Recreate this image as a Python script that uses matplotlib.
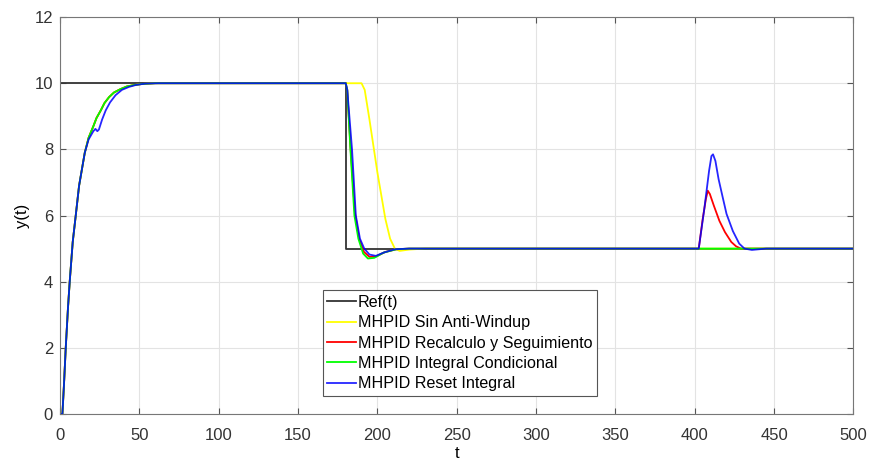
import numpy as np
import matplotlib.pyplot as plt

# reference signal
t_ref = [0, 180, 180, 500]
y_ref = [10, 10, 5, 5]

# start-up response (shared by the first three schemes)
t_rise = [0, 1.5, 2.5, 3.6, 5, 6.1, 8, 9.9, 12, 15.6, 18, 21, 23, 25.7, 28, 30.9, 34, 38, 42, 46, 52, 60]
y_rise = [0, 0, 0.9, 2.0, 3.2, 4.0, 5.2, 6.0, 6.9, 7.9, 8.35, 8.7, 8.95, 9.18, 9.4, 9.58, 9.72, 9.82, 9.9, 9.94, 9.98, 10]

# reset integral start-up (small dip when the integrator is reset)
t_rise_rst = [0, 1.5, 2.5, 3.6, 5, 6.1, 8, 9.9, 12, 15.6, 18, 21, 22.3, 23.5, 24.5, 26.5, 28.8, 31.5,
              35, 39, 43.5, 48, 54, 62]
y_rise_rst = [0, 0, 0.9, 2.0, 3.2, 4.0, 5.2, 6.0, 6.9, 7.9, 8.3, 8.55, 8.62, 8.55, 8.6, 8.9, 9.18, 9.42,
              9.64, 9.8, 9.89, 9.95, 9.99, 10]

# setpoint step down at t=180
t_fall_sin = [180, 190, 192, 195, 200, 205, 208, 211, 214, 220, 230, 500]
y_fall_sin = [10, 10, 9.8, 8.9, 7.3, 5.9, 5.3, 5.0, 4.93, 4.97, 5, 5]

t_fall_rec = [180, 181, 183, 185.8, 188.5, 191.5, 195, 199, 205, 212, 220, 402.5]
y_fall_rec = [10, 9.8, 8.1, 6.1, 5.3, 4.9, 4.75, 4.76, 4.9, 4.98, 5, 5]

t_fall_cond = [180, 181, 183, 185.5, 188, 191, 194, 198, 204, 212, 220, 500]
y_fall_cond = [10, 9.8, 8.0, 6.0, 5.3, 4.85, 4.7, 4.72, 4.88, 4.98, 5, 5]

t_fall_rst = [180, 181, 184, 186.4, 189, 191.7, 195, 199, 204, 211, 220, 402.5]
y_fall_rst = [10, 9.8, 8.0, 6.0, 5.3, 5.0, 4.82, 4.78, 4.88, 4.98, 5, 5]

# disturbance around t=400
t_dist_rec = [405, 407, 408.2, 409.5, 412, 415.5, 419, 423, 426, 429, 440, 500]
y_dist_rec = [5.9, 6.5, 6.75, 6.65, 6.3, 5.84, 5.5, 5.2, 5.07, 5.0, 5, 5]

t_dist_rst = [406, 409, 410.5, 411.5, 413, 415, 417.6, 420, 424, 428, 431.3, 436, 445, 500]
y_dist_rst = [6.2, 7.35, 7.8, 7.85, 7.65, 7.1, 6.55, 6.05, 5.53, 5.15, 5.0, 4.96, 5.0, 5]

labels = ['Ref(t)', 'MHPID Sin Anti-Windup', 'MHPID Recalculo y Seguimiento',
          'MHPID Integral Condicional', 'MHPID Reset Integral']

plt.rcParams['font.family'] = ['Liberation Sans', 'DejaVu Sans']

fig = plt.figure(figsize=(8.7, 4.62), dpi=100)
ax = fig.add_axes([0.069, 0.104, 0.912, 0.859])

lw = 1.3
ax.plot(t_ref, y_ref, color='#333333', lw=lw, label=labels[0])
ax.plot(t_rise + t_fall_sin, y_rise + y_fall_sin, color='#ffff00', lw=lw, label=labels[1])
ax.plot(t_rise + t_fall_rec + t_dist_rec, y_rise + y_fall_rec + y_dist_rec,
        color='#ff0000', lw=lw, label=labels[2])
ax.plot(t_rise + t_fall_cond, y_rise + y_fall_cond, color='#00ff00', lw=lw, label=labels[3])
ax.plot(t_rise_rst + t_fall_rst + t_dist_rst, y_rise_rst + y_fall_rst + y_dist_rst,
        color='#0000ff', lw=lw, alpha=0.85, label=labels[4])

ax.set_xlim(0, 500)
ax.set_ylim(0, 12)
ax.set_xticks(np.arange(0, 501, 50))
ax.set_yticks(np.arange(0, 13, 2))
ax.grid(True, color='#e3e3e3', lw=0.8)
ax.set_axisbelow(True)
ax.tick_params(direction='in', top=True, right=True, length=4, labelsize=12,
               colors='#555555', labelcolor='#333333')
ax.tick_params(axis='x', pad=10)
ax.tick_params(axis='y', pad=5)
for s in ax.spines.values():
    s.set_color('#777777')
ax.set_xlabel('t', fontsize=12, labelpad=2)
ax.set_ylabel('y(t)', fontsize=12, labelpad=3)

leg = ax.legend(loc='lower left', bbox_to_anchor=(0.331, 0.045), fontsize=11.6,
                labelspacing=0.33, handlelength=1.8, handletextpad=0.1,
                borderpad=0.3, borderaxespad=0, fancybox=False, framealpha=1)
leg.get_frame().set_edgecolor('#555555')
leg.get_frame().set_linewidth(0.8)

fig.savefig('out.png', dpi=100)
